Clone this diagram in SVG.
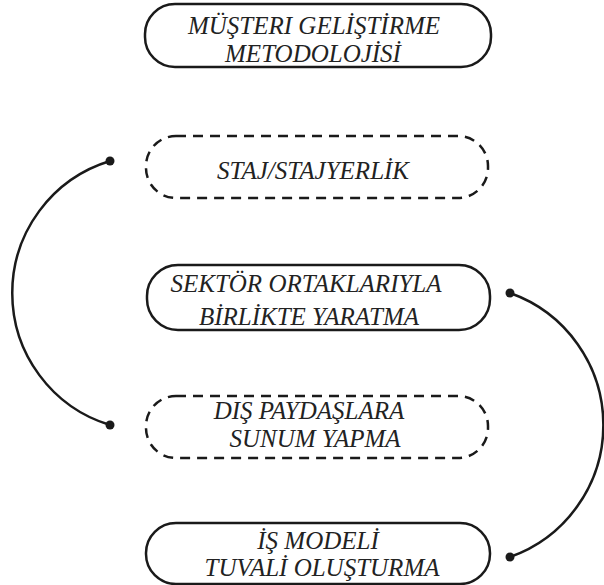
<svg xmlns="http://www.w3.org/2000/svg" width="604" height="585" viewBox="0 0 604 585">
<style>
.box{fill:#fff;stroke:#1a1a1a;stroke-width:2.5}
.dash{stroke-dasharray:10 7}
.lbl{font-family:"Liberation Serif","Times New Roman",serif;font-style:italic;font-size:25px;fill:#222;text-anchor:middle}
.conn{fill:none;stroke:#1a1a1a;stroke-width:2.5}
.dot{fill:#1a1a1a}
</style>
<rect width="604" height="585" fill="#fff"/>
<g id="connectors">
<path class="conn" d="M110,161 A138,138 0 0 0 110,425"/>
<circle class="dot" cx="110" cy="161" r="4.5"/>
<circle class="dot" cx="110" cy="425" r="4.5"/>
<path class="conn" d="M510,293 A140,140 0 0 1 510,557"/>
<circle class="dot" cx="510" cy="293" r="4.5"/>
<circle class="dot" cx="510" cy="557" r="4.5"/>
</g>
<g id="n1">
<rect class="box" x="145" y="4" width="346" height="63" rx="30" ry="30"/>
<text class="lbl" x="314" y="34">MÜŞTERI GELİŞTİRME</text>
<text class="lbl" x="313" y="62">METODOLOJİSİ</text>
</g>
<g id="n2">
<rect class="box dash" x="146" y="136" width="342" height="62" rx="30" ry="30"/>
<text class="lbl" x="313" y="179">STAJ/STAJYERLİK</text>
</g>
<g id="n3">
<rect class="box" x="147" y="265" width="343" height="65" rx="31" ry="31"/>
<text class="lbl" x="306" y="292">SEKTÖR ORTAKLARIYLA</text>
<text class="lbl" x="309" y="325">BİRLİKTE YARATMA</text>
</g>
<g id="n4">
<rect class="box dash" x="146" y="396" width="342" height="62" rx="30" ry="30"/>
<text class="lbl" x="309" y="419">DIŞ PAYDAŞLARA</text>
<text class="lbl" x="315" y="447">SUNUM YAPMA</text>
</g>
<g id="n5">
<rect class="box" x="146" y="523" width="344" height="61" rx="30" ry="30"/>
<text class="lbl" x="318" y="549">İŞ MODELİ</text>
<text class="lbl" x="322" y="576">TUVALİ OLUŞTURMA</text>
</g>
</svg>
